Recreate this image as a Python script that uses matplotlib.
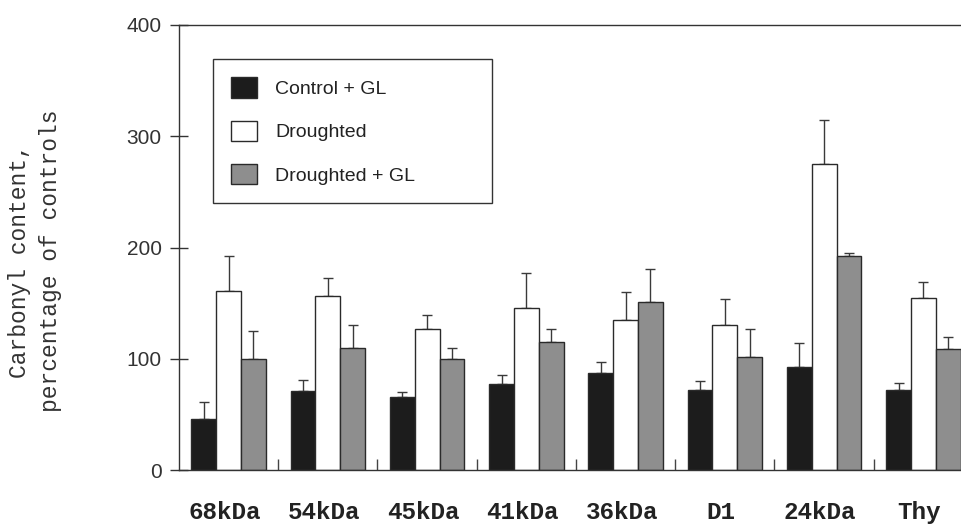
import numpy as np
import matplotlib
matplotlib.use('Agg')
import matplotlib.pyplot as plt
from matplotlib.patches import Patch

# 数据
proteins = ['68kDa', '54kDa', '45kDa', '41kDa', '36kDa', 'D1', '24kDa', 'Thy']
series = ['Control + GL', 'Droughted', 'Droughted + GL']

control_gl = [46, 71, 66, 77, 87, 72, 93, 72]
control_gl_err = [15, 10, 4, 8, 10, 8, 21, 6]

droughted = [161, 156, 127, 146, 135, 130, 275, 155]
droughted_err = [31, 17, 12, 31, 25, 24, 40, 14]

droughted_gl = [100, 110, 100, 115, 151, 102, 192, 109]
droughted_gl_err = [25, 20, 10, 12, 30, 25, 3, 11]

yticks = [0, 100, 200, 300, 400]

colors = ['#1c1c1c', '#ffffff', '#8e8e8e']
edge = '#2a2a2a'

W, H = 962, 526
fig = plt.figure(figsize=(W / 100, H / 100), dpi=100)
ax = fig.add_axes([179 / W, (H - 470) / H, (973 - 179) / W, (470 - 25) / H])

x = np.arange(len(proteins)) + 0.5
bw = 0.25
values = [control_gl, droughted, droughted_gl]
errors = [control_gl_err, droughted_err, droughted_gl_err]

for k in range(3):
    pos = x + (k - 1) * bw
    ax.bar(pos, values[k], width=bw, color=colors[k], edgecolor=edge,
           linewidth=1.0, zorder=2)
    ax.errorbar(pos, values[k], yerr=[np.zeros(len(proteins)), errors[k]],
                fmt='none', ecolor='#3a3a3a', elinewidth=1.0, capsize=3.5,
                capthick=1.0, zorder=1)

ax.set_xlim(0, len(proteins))
ax.set_ylim(0, 400)

# y 轴
ax.set_yticks(yticks)
ax.set_yticklabels([str(v) for v in yticks], fontsize=15,
                   family=['Liberation Sans', 'DejaVu Sans'], color='#333333')
ax.tick_params(axis='y', direction='inout', length=13, width=1.0,
               color='#333333', pad=6)

# x 轴：组间分隔短刻度 + 组中心标签
ax.set_xticks(np.arange(1, len(proteins)))
ax.set_xticklabels([])
ax.tick_params(axis='x', which='major', direction='in', length=8,
               width=1.0, color='#444444')
ax.set_xticks(x - 0.04, minor=True)
ax.set_xticklabels(proteins, minor=True, fontsize=17.5, fontweight='bold',
                   family=['Liberation Mono', 'DejaVu Sans Mono'],
                   color='#222222')
ax.tick_params(axis='x', which='minor', length=0, pad=22)

for s in ax.spines.values():
    s.set_linewidth(1.0)
    s.set_color('#333333')

# y 轴标题（等宽字体，两行）
fig.text(20 / W, 1 - 261 / H, 'Carbonyl content,', rotation=90,
         ha='center', va='center', fontsize=16.5,
         family=['Liberation Mono', 'DejaVu Sans Mono'], color='#333333')
fig.text(51 / W, 1 - 261 / H, 'percentage of controls', rotation=90,
         ha='center', va='center', fontsize=16.5,
         family=['Liberation Mono', 'DejaVu Sans Mono'], color='#333333')

# 图例
handles = [Patch(facecolor=colors[k], edgecolor=edge, linewidth=1.0)
           for k in range(3)]
lx0 = (213 - 179) / 794
ly1 = (470 - 59) / 445
lw = (492 - 213) / 794
lh = (202 - 59) / 445
leg = ax.legend(handles, series, loc='upper left',
                bbox_to_anchor=(lx0, ly1 - lh, lw, lh), mode='expand',
                borderaxespad=0, fancybox=False, framealpha=1,
                edgecolor='#333333', handlelength=1.3, handleheight=1.25,
                handletextpad=0.95, labelspacing=1.15, borderpad=0.95,
                prop={'family': ['Liberation Sans', 'DejaVu Sans'], 'size': 14})
leg.get_frame().set_linewidth(1.0)
for t in leg.get_texts():
    t.set_color('#222222')

fig.savefig('out.png', dpi=100)
